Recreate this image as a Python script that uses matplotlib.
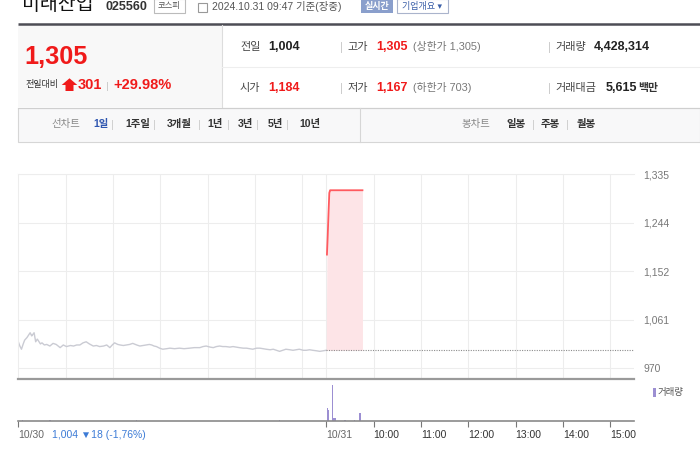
import matplotlib
matplotlib.use('Agg')
import matplotlib.pyplot as plt
from matplotlib.patches import Rectangle, Polygon

plt.rcParams['font.family'] = ['Liberation Sans', 'Noto Sans CJK KR', 'DejaVu Sans']

# ---------------------------------------------------------------------------
# data  (x = minutes after 09:00 of 10/30, 10/31 starts at 390)
day1_min = [0, 2, 4, 6, 8, 11, 15, 17, 18, 20, 22, 24, 25, 28, 30, 33, 36, 40,
            44, 48, 53, 57, 61, 66, 70, 74, 78, 82, 86, 90, 95, 99, 103, 108,
            112, 116, 119, 122, 126, 129, 133, 137, 141, 145, 150, 154, 158,
            162, 166, 169, 172, 175, 179, 183, 188, 192, 198, 204, 210, 217,
            223, 230, 234, 238, 243, 247, 251, 255, 259, 263, 268, 272, 276,
            280, 285, 289, 293, 297, 302, 306, 310, 314, 319, 323, 327, 331,
            335, 339, 344, 348, 352, 356, 361, 365, 369, 373, 378, 382, 386, 390]
day1_price = [1020, 1012, 1006, 1015, 1023, 1028, 1037, 1031, 1033, 1037, 1020,
              1025, 1023, 1016, 1018, 1014, 1015, 1012, 1017, 1015, 1009, 1014,
              1011, 1013, 1012, 1014, 1014, 1018, 1020, 1016, 1012, 1013, 1011,
              1012, 1014, 1009, 1014, 1018, 1015, 1014, 1013, 1014, 1015, 1017,
              1014, 1012, 1013, 1014, 1015, 1014, 1012, 1011, 1008, 1006, 1007,
              1008, 1007, 1008, 1007, 1008, 1009, 1009, 1011, 1012, 1010, 1009,
              1011, 1012, 1011, 1011, 1010, 1011, 1010, 1009, 1008, 1008, 1007,
              1006, 1008, 1008, 1007, 1006, 1005, 1006, 1004, 1002, 1004, 1006,
              1005, 1004, 1005, 1006, 1004, 1004, 1005, 1004, 1003, 1002, 1003,
              1004]

day2_min = [391, 392, 393, 394, 395, 396, 400, 405, 410, 415, 420, 425, 430,
            436]
day2_price = [1184, 1220, 1262, 1300, 1305, 1305, 1305, 1305, 1305, 1305,
              1305, 1305, 1305, 1305]
prev_close = 1004

vol_min = [5, 40, 150, 331, 392, 393, 398, 399, 400, 401, 402, 414, 426, 433]
vol_qty = [15000, 9000, 8000, 16000, 520000, 430000, 1450000, 90000, 85000,
           90000, 60000, 30000, 25000, 300000]

ytick_vals = [970, 1061.25, 1152.5, 1243.75, 1335]
ytick_labels = ['970', '1,061', '1,152', '1,244', '1,335']
grid_x = [60, 120, 180, 240, 300, 360, 390, 450, 510, 570, 630, 690, 750]
vol_ticks = [0, 390, 450, 510, 570, 630, 690, 750]
vol_tick_labels = ['10/30', '10/31', '10:00', '11:00', '12:00', '13:00',
                   '14:00', '15:00']

RED = '#f01a1a'
W, H = 700, 453


def pix_axes(fig, x0, y0, x1, y1):
    return fig.add_axes([x0 / W, 1 - y1 / H, (x1 - x0) / W, (y1 - y0) / H])


fig = plt.figure(figsize=(7, 4.53), dpi=100)

# ---------------------------------------------------------------------------
# page header drawn in pixel coordinates
ui = fig.add_axes([0, 0, 1, 1])
ui.set_xlim(0, W)
ui.set_ylim(H, 0)
ui.axis('off')

ui.text(22, 5, '미래산업', fontsize=14, color='#111', va='center')
ui.text(106, 6.5, '025560', fontsize=9, fontweight='bold', color='#333', va='center')
ui.add_patch(Rectangle((154, -1), 31, 14, fc='white', ec='#bbb', lw=0.8))
ui.text(169.5, 6, '코스피', fontsize=6, color='#555', ha='center', va='center')
ui.add_patch(Rectangle((198, 3), 9, 9, fc='white', ec='#999', lw=0.8))
ui.text(212, 6, '2024.10.31 09:47 기준(장중)', fontsize=7.5, color='#555', va='center')
ui.add_patch(Rectangle((361, -1), 32, 14, fc='#8a9fcc', ec='none'))
ui.text(377, 6, '실시간', fontsize=6.5, color='white', fontweight='bold',
        ha='center', va='center')
ui.add_patch(Rectangle((397, -1), 51, 14, fc='white', ec='#aab4cc', lw=0.8))
ui.text(422, 6, '기업개요 ▾', fontsize=6.5, color='#3a5ea8', ha='center', va='center')

ui.plot([18, 700], [23.8, 23.8], color='#4d4d55', lw=1.8, solid_capstyle='butt')

# price box
ui.add_patch(Rectangle((18, 25), 203.7, 82, fc='#f8f8f8', ec='none'))
ui.plot([221.7, 221.7], [25, 107], color='#ddd', lw=0.8)
ui.plot([221.7, 700], [66.7, 66.7], color='#eee', lw=0.8)
ui.plot([18, 700], [107.5, 107.5], color='#cfcfcf', lw=0.8)
ui.text(24, 64.5, '1,305', fontsize=18.2, fontweight='bold', color=RED, va='baseline')
ui.text(25, 85, '전일대비', fontsize=6.5, color='#333', va='center')
ui.add_patch(Polygon([(61.7, 85), (69.5, 78.3), (77.3, 85), (73.5, 85),
                      (73.5, 91), (65.5, 91), (65.5, 85)], closed=True,
                     fc=RED, ec='none'))
ui.text(78, 85, '301', fontsize=10.5, fontweight='bold', color=RED, va='center')
ui.plot([106.7, 106.7], [81.5, 89.5], color='#ccc', lw=0.7)
ui.text(113, 85, '+29.98%', fontsize=10.5, fontweight='bold', color=RED, va='center')

info_rows = [46.7, 87.7]
ui.text(240, info_rows[0], '전일', fontsize=8, color='#444', va='center')
ui.text(268.5, info_rows[0], '1,004', fontsize=9, fontweight='bold', color='#222', va='center')
ui.text(347, info_rows[0], '고가', fontsize=8, color='#444', va='center')
ui.text(376, info_rows[0], '1,305', fontsize=9, fontweight='bold', color=RED, va='center')
ui.text(412.7, info_rows[0], '(상한가 1,305)', fontsize=7.8, color='#777', va='center')
ui.text(555.5, info_rows[0], '거래량', fontsize=8, color='#444', va='center')
ui.text(594, info_rows[0], '4,428,314', fontsize=9, fontweight='bold', color='#222', va='center')
ui.text(240, info_rows[1], '시가', fontsize=8, color='#444', va='center')
ui.text(268.5, info_rows[1], '1,184', fontsize=9, fontweight='bold', color=RED, va='center')
ui.text(347, info_rows[1], '저가', fontsize=8, color='#444', va='center')
ui.text(376, info_rows[1], '1,167', fontsize=9, fontweight='bold', color=RED, va='center')
ui.text(412.7, info_rows[1], '(하한가 703)', fontsize=7.8, color='#777', va='center')
ui.text(555.5, info_rows[1], '거래대금', fontsize=8, color='#444', va='center')
ui.text(606, info_rows[1], '5,615', fontsize=9, fontweight='bold', color='#222', va='center')
ui.text(638, info_rows[1], '백만', fontsize=7.8, fontweight='bold', color='#333', va='center')
for yy in info_rows:
    ui.plot([340.7, 340.7], [yy - 5, yy + 5], color='#ccc', lw=0.7)
    ui.plot([549, 549], [yy - 5, yy + 5], color='#ccc', lw=0.7)

# chart tabs row
ui.add_patch(Rectangle((18, 108), 682, 33.5, fc='#f8f8f9', ec='#d6d6d6', lw=0.8))
ui.plot([360, 360], [108, 141.5], color='#d6d6d6', lw=0.8)
tab_y = 124.5
ui.text(51, tab_y, '선차트', fontsize=7.5, color='#888', va='center')
ui.text(93, tab_y, '1일', fontsize=7.5, fontweight='bold', color='#2f56b0', va='center')
for xx, lab in [(125, '1주일'), (167, '3개월'), (207, '1년'), (238, '3년'),
                (268, '5년'), (299, '10년'), (506, '일봉'), (541, '주봉'), (577, '월봉')]:
    ui.text(xx, tab_y, lab, fontsize=7.5, fontweight='bold', color='#333', va='center')
ui.text(462, tab_y, '봉차트', fontsize=7.5, color='#888', va='center')
for xx in [112, 154, 198.5, 227.5, 256.5, 287, 533, 566.5]:
    ui.plot([xx, xx], [tab_y - 4.5, tab_y + 4.5], color='#d0d0d0', lw=0.7)

# ---------------------------------------------------------------------------
# price chart
ax = pix_axes(fig, 18.3, 174.3, 634, 379)
ax.set_xlim(0, 780)
ax.set_ylim(950, 1335)
ax.set_xticks(grid_x)
ax.set_yticks(ytick_vals)
ax.set_yticklabels(ytick_labels)
ax.tick_params(axis='x', length=0, labelbottom=False)
ax.tick_params(axis='y', length=0, labelleft=False, labelright=True,
               labelsize=7.5, labelcolor='#777', pad=6.5)
ax.grid(True, color='#ededed', lw=0.8)
ax.set_axisbelow(True)
for s in ['top', 'left']:
    ax.spines[s].set_color('#ededed')
    ax.spines[s].set_linewidth(0.8)
ax.spines['right'].set_visible(False)
ax.spines['bottom'].set_color('#9a9a9a')
ax.spines['bottom'].set_linewidth(1.6)

ax.plot(day1_min, day1_price, color='#cacbd3', lw=1.0)
ax.fill_between([390] + day2_min, [prev_close] + day2_price, prev_close,
                color='#fde4e7', lw=0)
ax.hlines(prev_close, 390, 780, colors='#8c8c8c', linestyles=(0, (1, 1.2)), lw=0.8)
ax.plot(day2_min, day2_price, color='#ff5a5f', lw=1.3)

# volume chart
axv = pix_axes(fig, 18.3, 379, 634, 420.5)
axv.set_xlim(0, 780)
axv.set_ylim(0, 1690000)
axv.bar(vol_min, vol_qty, width=1.8, color='#9c8fd2', lw=0)
axv.set_yticks([])
for s in ['top', 'left', 'right']:
    axv.spines[s].set_visible(False)
axv.spines['bottom'].set_color('#8a8a8a')
axv.spines['bottom'].set_linewidth(1.2)
axv.set_xticks(vol_ticks)
axv.set_xticklabels(vol_tick_labels)
axv.tick_params(axis='x', length=4, color='#777', width=0.8, pad=2.5, labelsize=7.5)
for i, lab in enumerate(axv.get_xticklabels()):
    lab.set_horizontalalignment('left')
    lab.set_color('#666' if i < 2 else '#333')
axv.patch.set_alpha(0)

ui.text(52, 434.5, '1,004 ▼18 (-1,76%)', fontsize=7.5, color='#3c7bd6', va='center')
ui.add_patch(Rectangle((653, 387.5), 2.6, 9, fc='#9c8fd2', ec='none'))
ui.text(658, 392, '거래량', fontsize=6.8, color='#555', va='center')

fig.savefig('out.png', dpi=100)
